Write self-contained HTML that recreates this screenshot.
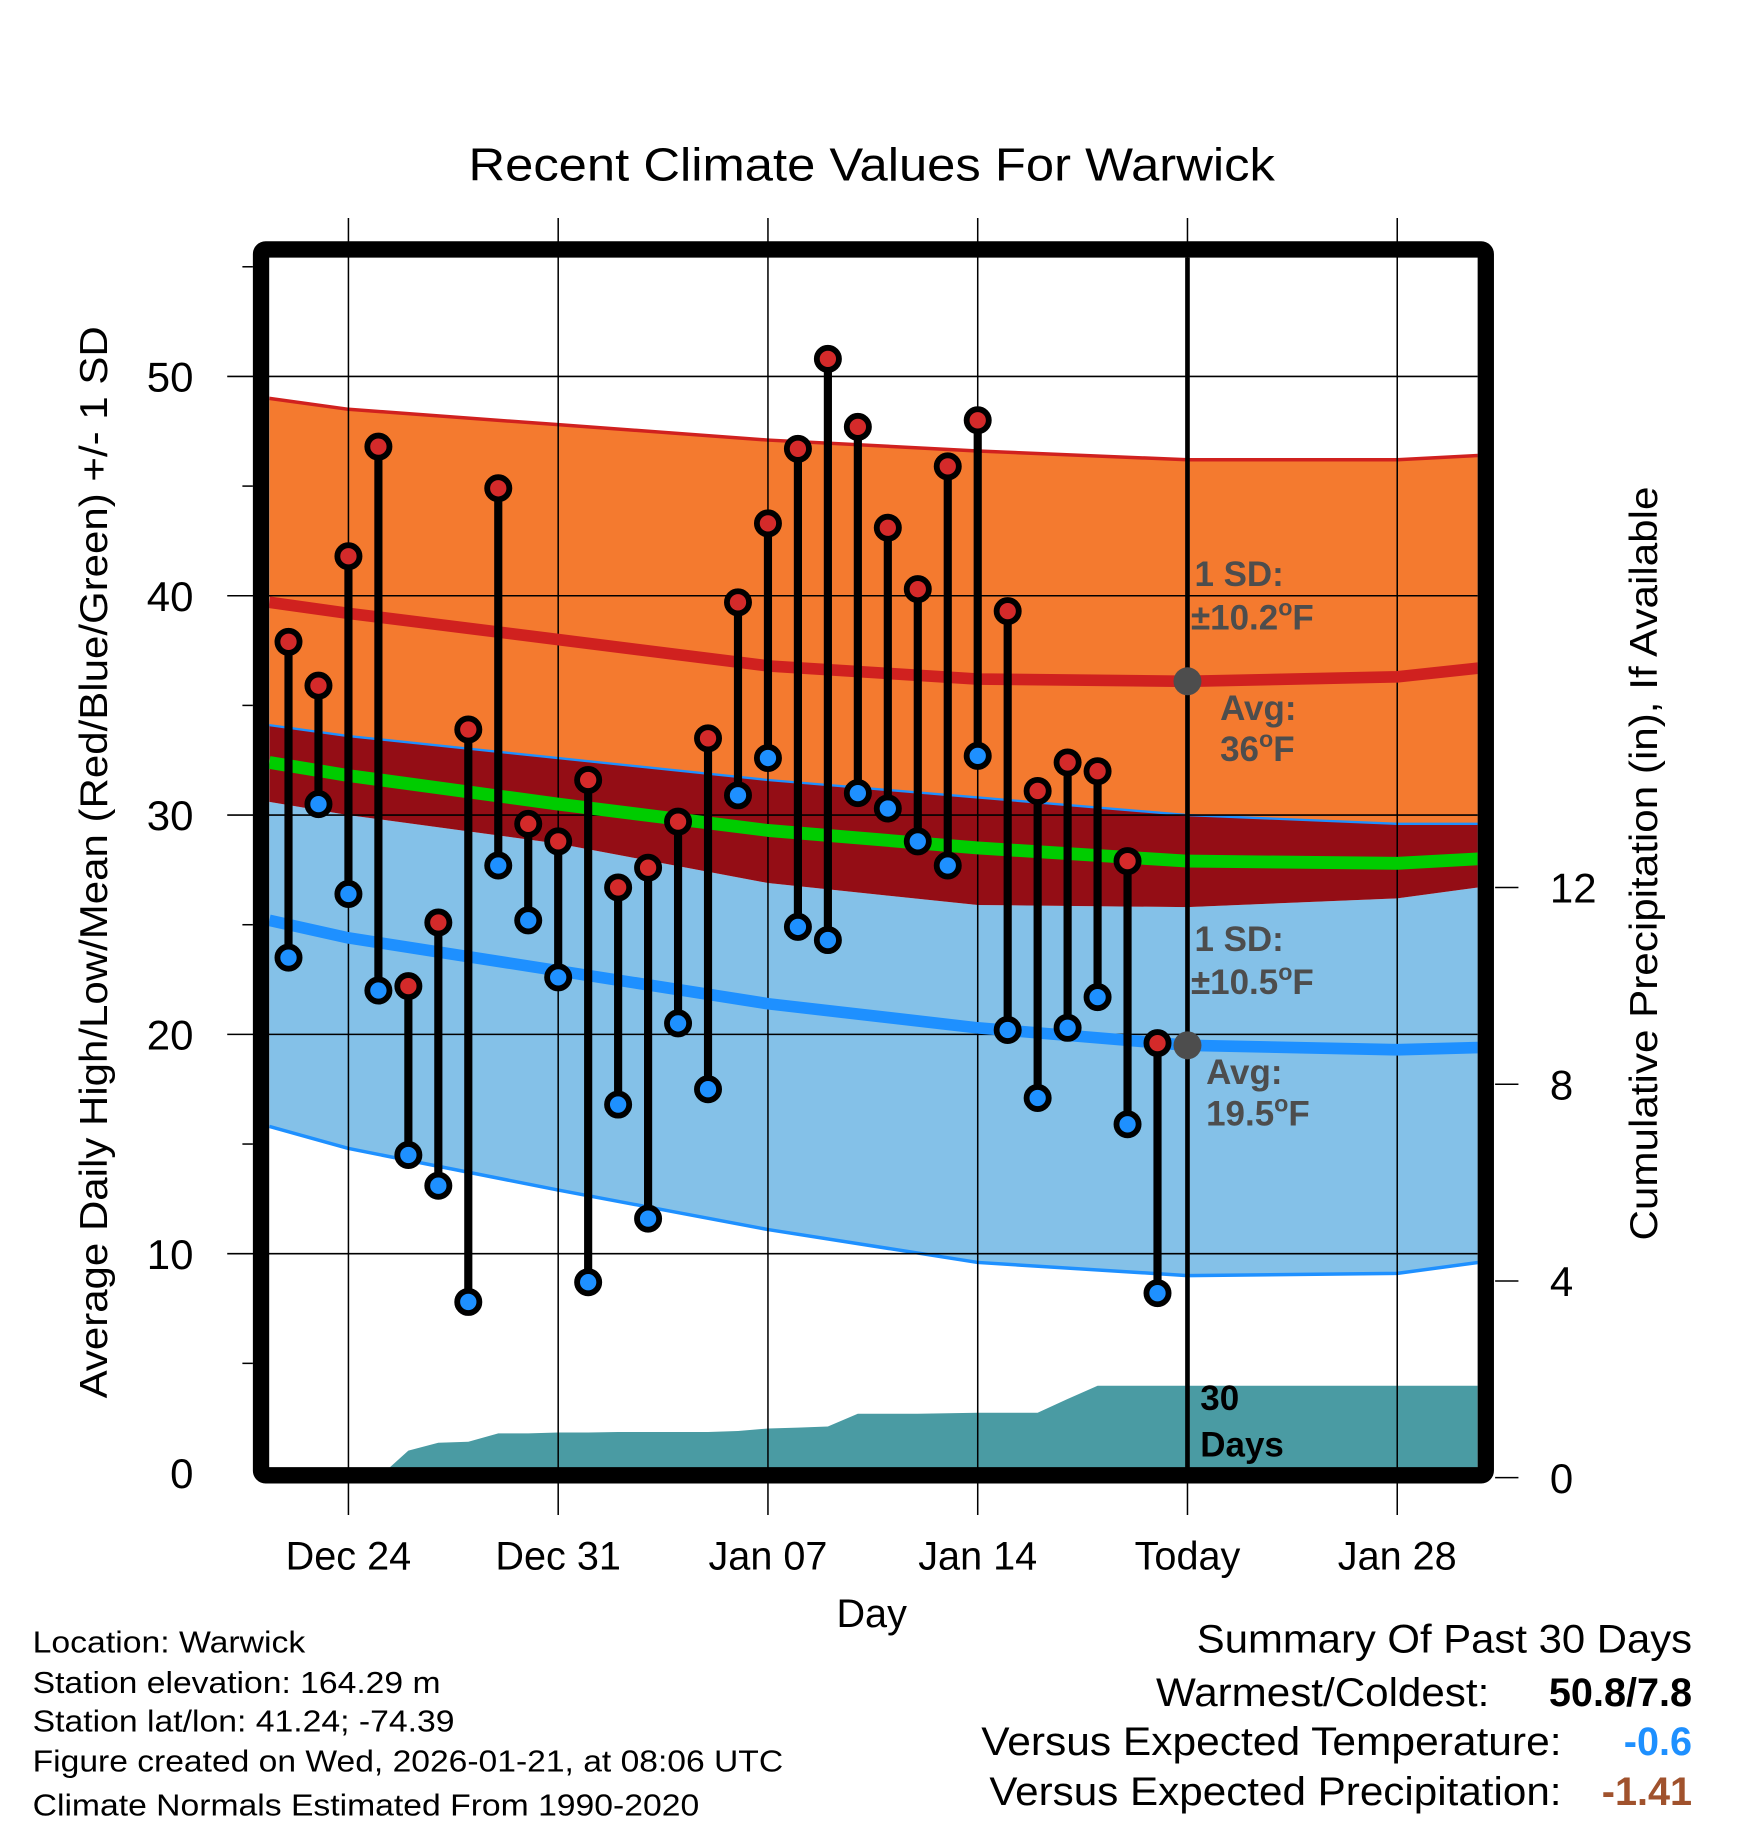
<!DOCTYPE html>
<html><head><meta charset="utf-8"><style>
html,body{margin:0;padding:0;background:#fff;}
svg{display:block;font-family:"Liberation Sans",sans-serif;}
</style></head><body>
<svg id="chart" width="1748" height="1828" viewBox="0 0 1500 1568.6" xmlns="http://www.w3.org/2000/svg">
<rect width="1500" height="1568.6" fill="#fff"/>
<text x="748" y="155" font-size="40" text-anchor="middle" textLength="692" lengthAdjust="spacingAndGlyphs">Recent Climate Values For Warwick</text>
<g id="plot"></g>
<text x="748" y="1396" font-size="34" text-anchor="middle">Day</text>
<text transform="translate(92,740) rotate(-90)" font-size="33" text-anchor="middle" textLength="920" lengthAdjust="spacingAndGlyphs">Average Daily High/Low/Mean (Red/Blue/Green) +/- 1 SD</text>
<text transform="translate(1422,741) rotate(-90)" font-size="33" text-anchor="middle" textLength="647" lengthAdjust="spacingAndGlyphs">Cumulative Precipitation (in), If Available</text>
<g font-size="26">
<text x="28" y="1418" textLength="234" lengthAdjust="spacingAndGlyphs">Location: Warwick</text>
<text x="28" y="1453" textLength="350" lengthAdjust="spacingAndGlyphs">Station elevation: 164.29 m</text>
<text x="28" y="1486" textLength="362" lengthAdjust="spacingAndGlyphs">Station lat/lon: 41.24; -74.39</text>
<text x="28" y="1520" textLength="644" lengthAdjust="spacingAndGlyphs">Figure created on Wed, 2026-01-21, at 08:06 UTC</text>
<text x="28" y="1558" textLength="572" lengthAdjust="spacingAndGlyphs">Climate Normals Estimated From 1990-2020</text>
</g>
<g font-size="34" text-anchor="end">
<text x="1452" y="1418" textLength="425" lengthAdjust="spacingAndGlyphs">Summary Of Past 30 Days</text>
<text x="1278" y="1464" textLength="286" lengthAdjust="spacingAndGlyphs">Warmest/Coldest:</text>
<text x="1452" y="1464" font-weight="bold">50.8/7.8</text>
<text x="1340" y="1506" textLength="498" lengthAdjust="spacingAndGlyphs">Versus Expected Temperature:</text>
<text x="1452" y="1506" font-weight="bold" fill="#1e90ff">-0.6</text>
<text x="1340" y="1549" textLength="491" lengthAdjust="spacingAndGlyphs">Versus Expected Precipitation:</text>
<text x="1452" y="1549" font-weight="bold" fill="#a0522d">-1.41</text>
</g>
</svg>
<script>
// day offsets relative to Dec 24 (0)
const obsDays = [-2,-1,0,1,2,3,4,5,6,7,8,9,10,11,12,13,14,15,16,17,18,19,20,21,22,23,24,25,26,27];
const highs = [37.9,35.9,41.8,46.8,22.2,25.1,33.9,44.9,29.6,28.8,31.6,26.7,27.6,29.7,33.5,39.7,43.3,46.7,50.8,47.7,43.1,40.3,45.9,48.0,39.3,31.1,32.4,32.0,27.9,19.6];
const lows = [23.5,30.5,26.4,22.0,14.5,13.1,7.8,27.7,25.2,22.6,8.7,16.8,11.6,20.5,17.5,30.9,32.6,24.9,24.3,31.0,30.3,28.8,27.7,32.7,20.2,17.1,20.3,21.7,15.9,8.2];
const precip = [0,0,0,0,0.55,0.71,0.73,0.9,0.9,0.92,0.92,0.93,0.93,0.93,0.93,0.95,1.0,1.02,1.04,1.3,1.3,1.3,1.31,1.32,1.32,1.32,1.6,1.87,1.87,1.87];
const normDays = [-2.64,0,7,14,21,28,35,37.7];
const normHigh = [39.7,39.2,38.0,36.8,36.2,36.1,36.3,36.7];
const normHighUp = [49.0,48.5,47.8,47.1,46.6,46.2,46.2,46.4];
const normHighDn = [34.1,33.6,32.6,31.6,30.8,30.0,29.6,29.6];
const normMean = [32.4,31.8,30.5,29.3,28.5,27.9,27.8,28.0];
const normLowUp = [30.6,30.0,28.7,26.9,25.9,25.8,26.2,26.7];
const normLow = [25.2,24.4,22.9,21.4,20.3,19.5,19.3,19.4];
const normLowDn = [15.8,14.8,12.9,11.1,9.6,9.0,9.1,9.6];
const yTicks = [0,10,20,30,40,50];
const y2Ticks = [0,4,8,12];
const xTickDays = [0,7,14,21,28,35];
const xTickLabels = ["Dec 24","Dec 31","Jan 07","Jan 14","Today","Jan 28"];

const NS="http://www.w3.org/2000/svg";
const X0=231,X1=1268,Y0=221,Y1=1260;
const xs=d=>299+d*180/7;
const ys=v=>1264-v*18.82;
const yp=v=>1268-v*42.2;
const g=document.getElementById('plot');
function mk(tag,attrs,parent){const e=document.createElementNS(NS,tag);for(const k in attrs)e.setAttribute(k,attrs[k]);(parent||g).appendChild(e);return e;}
function pts(arr){return normDays.map((d,i)=>xs(d).toFixed(1)+','+ys(arr[i]).toFixed(1));}
const clip=mk('clipPath',{id:'pc'});mk('rect',{x:X0,y:Y0,width:X1-X0,height:Y1-Y0},clip);
const inner=mk('g',{'clip-path':'url(#pc)'});
const gridG=mk('g',{});
const linesG=mk('g',{'clip-path':'url(#pc)'});
function bandI(a,b,fill,name){const p=pts(a).concat(pts(b).reverse()).join(' ');const e=mk('polygon',{points:p,fill:fill},inner);}
function lineI(a,stroke,w,name,tg){const e=mk('polyline',{points:pts(a).join(' '),fill:'none',stroke:stroke,'stroke-width':w,'stroke-linejoin':'round'},tg||inner);}
bandI(normHighUp,normHighDn,'#f47a2f','high-sd-band');
bandI(normLowUp,normLowDn,'#84c1e8','low-sd-band');
bandI(normHighDn,normLowUp,'#940d15','overlap-band');
lineI(normHighUp,'#d0211f',3,'high-plus-sd-line');
lineI(normHighDn,'#1e90ff',2,'high-minus-sd-line');
lineI(normLowDn,'#1e90ff',3,'low-minus-sd-line');
const pp=[X0+','+yp(0)];
obsDays.forEach((d,i)=>pp.push(xs(d).toFixed(1)+','+yp(precip[i]).toFixed(1)));
pp.push(X1+','+yp(precip[precip.length-1]).toFixed(1));pp.push(X1+','+yp(0));
const pa=mk('polygon',{points:pp.join(' '),fill:'#4a9ba3'},inner);


yTicks.forEach(v=>{if(v>0){const l=mk('line',{x1:195,x2:X1,y1:ys(v),y2:ys(v),stroke:'#000','stroke-width':1.3},gridG);}});
xTickDays.forEach(d=>{const l=mk('line',{x1:xs(d),x2:xs(d),y1:187,y2:1300,stroke:'#000','stroke-width':1.3},gridG);});
lineI(normHigh,'#d0211f',10,'normal-high-line',linesG);
lineI(normLow,'#1e90ff',10,'normal-low-line',linesG);
lineI(normMean,'#00cc00',11,'normal-mean-line',linesG);
for(let v=5;v<=55;v+=10){const l=mk('line',{x1:208,x2:217,y1:ys(v),y2:ys(v),stroke:'#000','stroke-width':1.3});}
yTicks.forEach(v=>{const t=mk('text',{x:166,y:ys(v)+13,'font-size':36,'text-anchor':'end'});t.textContent=v;});
y2Ticks.forEach(v=>{const l=mk('line',{x1:1283,x2:1303,y1:yp(v),y2:yp(v),stroke:'#000','stroke-width':1.3});
 const t=mk('text',{x:1330,y:yp(v)+13,'font-size':36});t.textContent=v;});
xTickDays.forEach((d,i)=>{const t=mk('text',{x:xs(d),y:1347,'font-size':34,'text-anchor':'middle'});t.textContent=xTickLabels[i];});
const tl=mk('line',{x1:1019,x2:1019,y1:Y0,y2:Y1,stroke:'#000','stroke-width':4});

function ann(x,y,txt,name,size,fill){const t=mk('text',{x:x,y:y,'font-size':size||30,'font-weight':'bold',fill:fill||'#4d4d4d'});t.innerHTML=txt;}
ann(1025,503,'1 SD:','high-sd-label');
ann(1022,540,'±10.2<tspan dy="-12" font-size="20">o</tspan><tspan dy="12">F</tspan>','high-sd-value');
ann(1047,618,'Avg:','high-avg-label');
ann(1047,653,'36<tspan dy="-12" font-size="20">o</tspan><tspan dy="12">F</tspan>','high-avg-value');
ann(1025,816,'1 SD:','low-sd-label');
ann(1022,853,'±10.5<tspan dy="-12" font-size="20">o</tspan><tspan dy="12">F</tspan>','low-sd-value');
ann(1035,930,'Avg:','low-avg-label');
ann(1035,966,'19.5<tspan dy="-12" font-size="20">o</tspan><tspan dy="12">F</tspan>','low-avg-value');
ann(1030,1210,'30','precip-days-label-1',30,'#000');
ann(1030,1250,'Days','precip-days-label-2',30,'#000');
const c1=mk('circle',{cx:xs(28),cy:ys(normHigh[5]),r:12,fill:'#4d4d4d'});
const c2=mk('circle',{cx:xs(28),cy:ys(normLow[5]),r:12,fill:'#4d4d4d'});
obsDays.forEach((d,i)=>{
  const x=xs(d);
  const s=mk('line',{x1:x,x2:x,y1:ys(highs[i]),y2:ys(lows[i]),stroke:'#000','stroke-width':7});
  
  
});
obsDays.forEach((d,i)=>{
  const x=xs(d);
  const h=mk('circle',{cx:x,cy:ys(highs[i]),r:9.5,fill:'#d42a2a',stroke:'#000','stroke-width':5});
  
  
  const l=mk('circle',{cx:x,cy:ys(lows[i]),r:9.5,fill:'#1e90ff',stroke:'#000','stroke-width':5});
  
  
});
const fr=mk('rect',{x:224,y:214,width:1051,height:1052,fill:'none',stroke:'#000','stroke-width':14,rx:4});


</script>
</body></html>
